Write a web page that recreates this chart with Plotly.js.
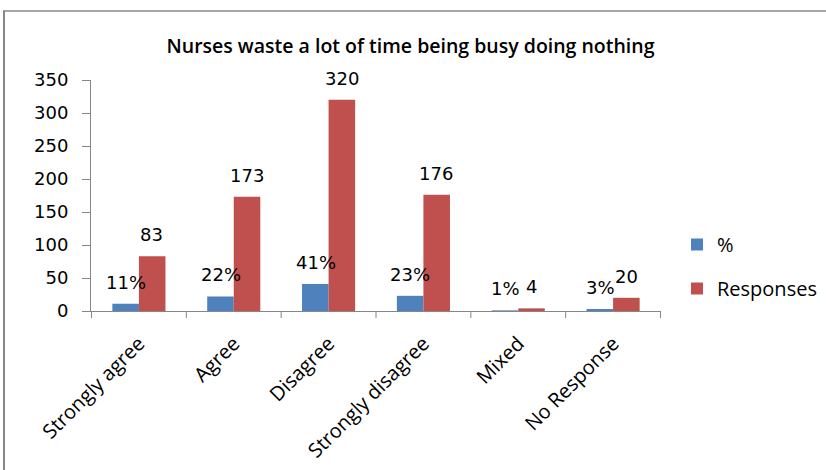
<!DOCTYPE html>
<html>
<head>
<meta charset="utf-8">
<script src="https://cdn.plot.ly/plotly-3.0.1.min.js"></script>
<style>html,body{margin:0;padding:0;background:#fff}#chart{width:826px;height:470px}</style>
</head>
<body>
<div id="chart"></div>
<script>
const categories = ["Strongly agree", "Agree", "Disagree", "Strongly disagree", "Mixed", "No Response"];
const percentValues = [11, 22, 41, 23, 1, 3];
const percentLabels = ["11%", "22%", "41%", "23%", "1%", "3%"];
const responseValues = [83, 173, 320, 176, 4, 20];
const responseLabels = ["83", "173", "320", "176", "4", "20"];
const yTicks = [0, 50, 100, 150, 200, 250, 300, 350];

const W = 826, H = 470;
const M = {l: 91, r: 165, t: 80, b: 159, autoexpand: false};
const pw = W - M.l - M.r, ph = H - M.t - M.b;
const px = x => (x - M.l) / pw;
const py = y => (H - M.b - y) / ph;

const labelFont = {family: "DejaVu Sans, Verdana, sans-serif", size: 18, color: "#000"};
const textFamily = "Open Sans, Lato, sans-serif";

const traces = [
  {type: "bar", name: "%", x: categories, y: percentValues, marker: {color: "#4F81BD"}, legendgroup: "a", hoverinfo: "skip"},
  {type: "bar", name: "Responses", x: categories, y: responseValues, marker: {color: "#C0504D"}, legendgroup: "b", hoverinfo: "skip"}
];

const annotations = [];
categories.forEach((c, i) => {
  annotations.push({x: c, y: percentValues[i], text: percentLabels[i], xref: "x", yref: "y", showarrow: false,
    xshift: -13, yshift: 9, yanchor: "bottom", font: labelFont});
  annotations.push({x: c, y: responseValues[i], text: responseLabels[i], xref: "x", yref: "y", showarrow: false,
    xshift: 13, yshift: 9, yanchor: "bottom", font: labelFont});
});

const layout = {
  width: W, height: H,
  margin: M,
  paper_bgcolor: "#fff", plot_bgcolor: "#fff",
  barmode: "group", bargap: 0.44, bargroupgap: 0,
  title: {text: "Nurses waste a lot of time being busy doing nothing", x: 0.497, xanchor: "center", y: 1 - 46 / H, yanchor: "middle",
    font: {family: textFamily, size: 19.5, color: "#000", weight: 600}},
  xaxis: {type: "category", showline: true, linecolor: "#868686", linewidth: 1, ticks: "", tickangle: -45,
    ticklabelstandoff: 12,
    tickfont: {family: textFamily, size: 20, color: "#000"}, showgrid: false, zeroline: false, fixedrange: true},
  yaxis: {range: [0, 350], tickvals: yTicks, ticktext: yTicks.map(String), showline: true, linecolor: "#868686", linewidth: 1,
    ticks: "outside", ticklen: 8, tickcolor: "#868686", showgrid: false, zeroline: false, ticklabelstandoff: 10,
    tickfont: labelFont, fixedrange: true},
  legend: {x: px(677), y: py(225), xanchor: "left", yanchor: "top", tracegroupgap: 15,
    font: {family: textFamily, size: 20, color: "#000"}, bgcolor: "rgba(0,0,0,0)"},
  annotations: annotations,
  shapes: [
    {type: "line", xref: "paper", yref: "paper", x0: px(3), x1: px(830), y0: py(11), y1: py(11), line: {color: "#888888", width: 1.5}},
    {type: "line", xref: "paper", yref: "paper", x0: px(4), x1: px(4), y0: py(11), y1: py(475), line: {color: "#888888", width: 2}}
  ]
};
for (let k = 0; k <= categories.length; k++) {
  layout.shapes.push({type: "line", xref: "x", yref: "paper", x0: k - 0.5, x1: k - 0.5, y0: 0, y1: py(318), line: {color: "#868686", width: 1}});
}

Plotly.newPlot("chart", traces, layout, {displayModeBar: false, staticPlot: true});
</script>
</body>
</html>
